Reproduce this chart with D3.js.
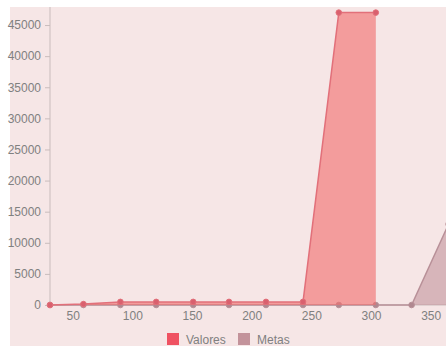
<!DOCTYPE html>
<html><head><meta charset="utf-8">
<script src="https://cdn.jsdelivr.net/npm/d3@7/dist/d3.min.js"></script>
<style>html,body{margin:0;padding:0;background:#fff;overflow:hidden}</style>
</head><body>
<svg id="c" width="446" height="346"></svg>
<script>
const days = [31, 59, 90, 120, 151, 181, 212, 243, 273, 304, 334, 365];
const valores = [0, 150, 500, 500, 500, 500, 500, 500, 47000, 47000, null, null];
const metas = [0, 0, 0, 0, 0, 0, 0, 0, 0, 0, 0, 13000];
const yTicks = [0, 5000, 10000, 15000, 20000, 25000, 30000, 35000, 40000, 45000];
const xTicks = [50, 100, 150, 200, 250, 300, 350];
const seriesNames = ["Valores", "Metas"];

const svg = d3.select("#c");
svg.append("rect").attr("x", 10).attr("y", 7).attr("width", 436).attr("height", 339).attr("fill", "#f6e6e6");

const x = d3.scaleLinear().domain([31, 365]).range([50, 448.6]);
const y = d3.scaleLinear().domain([0, 47000]).range([305, 12.6]);

const font = "'Liberation Sans', Arial, sans-serif";

// y axis
const ya = svg.append("g").attr("transform", "translate(50,0)").call(d3.axisLeft(y).tickValues(yTicks).tickFormat(d3.format("d")).tickSize(5).tickPadding(4));
ya.select(".domain").attr("stroke", "#c9bcbc").attr("d", "M0,7V305");
ya.selectAll(".tick line").attr("stroke", "#c9bcbc");
ya.selectAll("text").attr("fill", "#808080").attr("font-size", 12).attr("font-family", font);

// x axis
const xa = svg.append("g").attr("transform", "translate(0,305)").call(d3.axisBottom(x).tickValues(xTicks).tickFormat(d3.format("d")).tickSize(0).tickPadding(6));
xa.select(".domain").attr("stroke", "#c9bcbc").attr("d", "M50,0H446");
xa.selectAll("text").attr("fill", "#808080").attr("font-size", 12).attr("font-family", font);

const series = [
  {name: seriesNames[1], vals: metas, fill: "rgba(190,140,150,0.55)", stroke: "#b89098", point: "#b08890"},
  {name: seriesNames[0], vals: valores, fill: "rgba(240,110,110,0.62)", stroke: "#e2707a", point: "#d9606e"}
];

series.forEach(s => {
  const pts = days.map((d, i) => ({d, v: s.vals[i]}));
  const area = d3.area().defined(p => p.v != null).x(p => x(p.d)).y0(y(0)).y1(p => y(p.v));
  const line = d3.line().defined(p => p.v != null).x(p => x(p.d)).y(p => y(p.v));
  svg.append("path").attr("d", area(pts)).attr("fill", s.fill);
  svg.append("path").attr("d", line(pts)).attr("fill", "none").attr("stroke", s.stroke).attr("stroke-width", 1.5);
  svg.selectAll(null).data(pts.filter(p => p.v != null)).join("circle")
    .attr("cx", p => x(p.d)).attr("cy", p => y(p.v)).attr("r", 2.8)
    .attr("fill", s.point).attr("stroke", s.stroke).attr("stroke-width", 1);
});

// legend
const legend = [
  {name: seriesNames[0], color: "#ef5262", bx: 167},
  {name: seriesNames[1], color: "#c3939b", bx: 238}
];
legend.forEach(l => {
  svg.append("rect").attr("x", l.bx).attr("y", 333).attr("width", 12).attr("height", 12).attr("fill", l.color);
  svg.append("text").attr("x", l.bx + 19).attr("y", 343.5).attr("fill", "#808080").attr("font-size", 12)
    .attr("font-family", font).text(l.name);
});
</script>
</body></html>
